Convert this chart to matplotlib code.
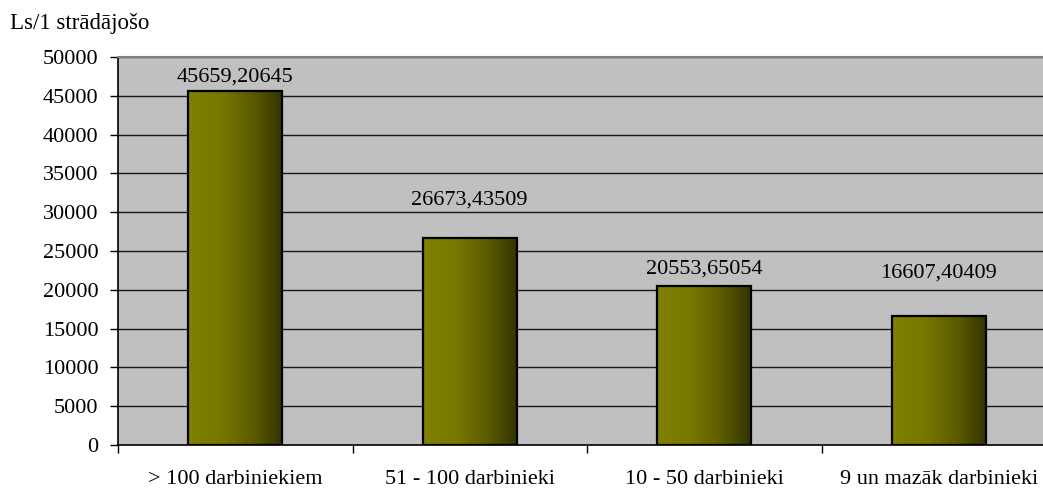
import numpy as np
import matplotlib
matplotlib.use("Agg")
import matplotlib.pyplot as plt
from matplotlib.colors import LinearSegmentedColormap

categories = ["> 100 darbiniekiem", "51 - 100 darbinieki", "10 - 50 darbinieki", "9 un mazāk darbinieki"]
values = [45659.20645, 26673.43509, 20553.65054, 16607.40409]
value_labels = ["45659,20645", "26673,43509", "20553,65054", "16607,40409"]
y_ticks = [0, 5000, 10000, 15000, 20000, 25000, 30000, 35000, 40000, 45000, 50000]
y_title = "Ls/1 strādājošo"

# vertical offset of each value label above its bar, in pixels
label_offsets = [14, 38, 16, 43]

W, H = 1043, 490
fig = plt.figure(figsize=(W / 100, H / 100), dpi=100)
plt.rcParams["font.family"] = ["Liberation Serif", "DejaVu Serif"]
FS = 16

left, right, top, bottom = 118, 1056, 57, 445
ax = fig.add_axes([left / W, 1 - bottom / H, (right - left) / W, (bottom - top) / H])
ax.set_facecolor("#c0c0c0")

x = np.arange(len(categories))
ax.set_xlim(-0.5, len(categories) - 0.5)
ax.set_ylim(0, 50000)

for yv in y_ticks[1:]:
    ax.axhline(yv, color="#1a1a1a", lw=1.0, zorder=1)

bar_w = 0.40
bars = ax.bar(x, values, width=bar_w, facecolor="none", edgecolor="black", lw=1.6, zorder=3)

cmap = LinearSegmentedColormap.from_list(
    "olive", [(0.0, "#808000"), (0.35, "#787800"), (0.7, "#5a5a00"), (1.0, "#343400")])
grad = np.linspace(0, 1, 256).reshape(1, -1)
for b in bars:
    x0, w, h = b.get_x(), b.get_width(), b.get_height()
    im = ax.imshow(grad, cmap=cmap, extent=[x0, x0 + w, 0, h], aspect="auto",
                   zorder=2, interpolation="bilinear")
    im.set_clip_path(b)

for xi, v, lab, off in zip(x, values, value_labels, label_offsets):
    ax.annotate(lab, (xi, v), xytext=(0, off), textcoords="offset pixels",
                ha="center", va="center", fontsize=FS, color="black", zorder=4)

ax.set_yticks(y_ticks)
ax.set_yticklabels([str(t) for t in y_ticks], fontsize=FS)
ax.set_xticks(x)
ax.set_xticklabels(categories, fontsize=FS)
ax.tick_params(axis="x", which="major", length=0, pad=18)
ax.set_xticks(np.arange(-0.5, len(categories) - 0.5, 1.0), minor=True)
ax.tick_params(axis="x", which="minor", length=6, width=1, direction="out", color="black")
ax.tick_params(axis="y", length=6, width=1, direction="out", pad=8)

for s in ["left", "bottom"]:
    ax.spines[s].set_color("black")
    ax.spines[s].set_linewidth(1.2)
ax.spines["top"].set_color("#808080")
ax.spines["top"].set_linewidth(1.5)
ax.spines["right"].set_visible(False)

fig.text(10 / W, 1 - 23 / H, y_title, fontsize=16.5, ha="left", va="center")

fig.savefig("out.png", dpi=100)
